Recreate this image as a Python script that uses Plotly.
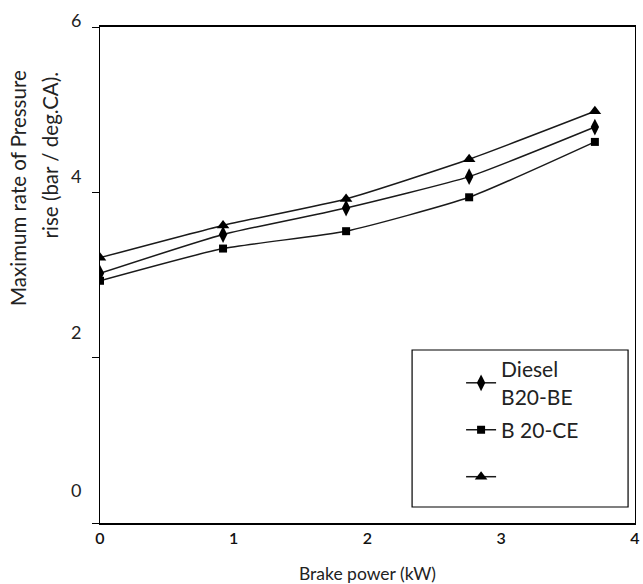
import plotly.graph_objects as go

brake_power = [0, 0.92, 1.84, 2.76, 3.7]
diesel = [3.02, 3.49, 3.81, 4.19, 4.79]
b20_ce = [2.93, 3.32, 3.53, 3.94, 4.61]
third = [3.21, 3.60, 3.92, 4.40, 4.98]

x_ticks = [0, 1, 2, 3, 4]
y_ticks = [0, 2, 4, 6]
y_label_lift = [33, 26, 16, 7]   # labels sit above their ticks in the original

FONT = "Lato"
fig = go.Figure()

series = [
    ("Diesel<br>B20-BE", diesel, "diamond-tall", 12),
    ("B 20-CE", b20_ce, "square", 8),
    ("<br> ", third, "triangle-up", 11),
]
for i, (name, vals, sym, sz) in enumerate(series):
    fig.add_trace(go.Scatter(
        x=brake_power, y=vals, name=name, mode="lines+markers",
        line=dict(color="#1a1a1a", width=1.5, shape="spline", smoothing=0.5),
        marker=dict(symbol=sym, size=sz, color="black"),
        legendgroup=f"g{i}",
    ))

# plot area in px: x 100..640, y 27..523
def px_x(p):
    return (p - 100) / 540

def px_y(p):
    return (523 - p) / 496

fig.update_layout(
    width=643, height=584,
    margin=dict(l=100, r=3, t=27, b=61),
    paper_bgcolor="white", plot_bgcolor="white",
    font=dict(family=FONT, color="#222"),
    xaxis=dict(range=[0, 4], tickvals=x_ticks, ticks="", showgrid=False, zeroline=False,
               showline=True, linecolor="black", linewidth=2, mirror=True,
               ticklabeloverflow="allow",
               tickfont=dict(size=16, family=FONT, color="#111", weight=600),
               title=dict(text="Brake power (kW)", font=dict(size=17.5, family=FONT, color="#222"),
                          standoff=22)),
    yaxis=dict(range=[0, 6], tickvals=y_ticks, ticks="outside", ticklen=7, tickcolor="black",
               showticklabels=False, showgrid=False, zeroline=False,
               showline=True, linecolor="black", linewidth=1.2, mirror=True),
    legend=dict(x=px_x(415), y=px_y(349), xanchor="left", yanchor="top",
                borderwidth=0, bgcolor="rgba(0,0,0,0)",
                font=dict(size=21, family=FONT, color="#222"),
                indentation=49, tracegroupgap=3, valign="middle"),
    shapes=[dict(type="rect", xref="paper", yref="paper",
                 x0=px_x(415), x1=px_x(633), y0=px_y(507), y1=px_y(350),
                 line=dict(color="black", width=1.2), fillcolor="white", layer="above")],
)

for v, lift in zip(y_ticks, y_label_lift):
    fig.add_annotation(text=str(v), xref="paper", yref="y", x=0, y=v, xanchor="right",
                       yanchor="middle", xshift=-17, yshift=lift, showarrow=False,
                       font=dict(size=18, family=FONT, color="#222"))

fig.add_annotation(text="Maximum rate of Pressure", xref="paper", yref="paper",
                   x=-0.152, y=0.675, xanchor="center", yanchor="middle", textangle=-90,
                   showarrow=False, font=dict(size=20.5, family=FONT, color="#222"))
fig.add_annotation(text="rise (bar / deg.CA).", xref="paper", yref="paper",
                   x=-0.0926, y=0.742, xanchor="center", yanchor="middle", textangle=-90,
                   showarrow=False, font=dict(size=20.5, family=FONT, color="#222"))

fig.write_html("out.html")
